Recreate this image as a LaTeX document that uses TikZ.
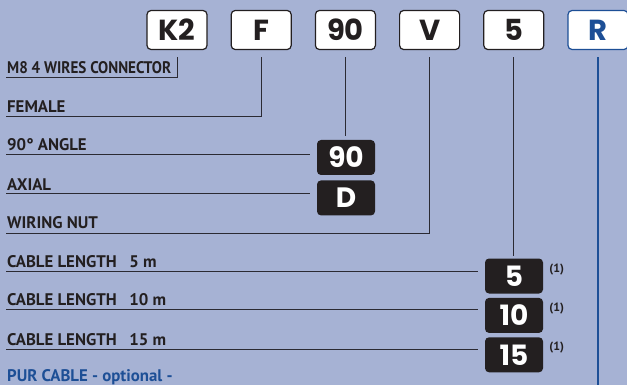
\documentclass[tikz,border=0pt]{standalone}
\usepackage{fontspec}
\setmainfont{PT Sans}
\newfontfamily\codefont{Poppins}
\usepackage{tikz}
\usetikzlibrary{positioning}
\definecolor{panel}{HTML}{A6B2D4}
\definecolor{codeblue}{HTML}{1D4F96}
\definecolor{ink}{HTML}{231F20}
\definecolor{wirecol}{HTML}{2B2A33}

\begin{document}
\begin{tikzpicture}[
  x=1pt, y=-1pt,
  node distance=23pt,
  codebox/.style={rectangle, draw=ink, fill=white, line width=1.2pt, rounded corners=4pt, minimum width=60pt, minimum height=39pt, inner sep=0pt, text=ink, font=\codefont\bfseries\fontsize{29}{29}\selectfont},
  pickbox/.style={rectangle, fill=ink, rounded corners=4pt, minimum width=58pt, minimum height=35pt, inner sep=0pt, text=white, font=\codefont\bfseries\fontsize{28}{28}\selectfont},
  label/.style={anchor=base west, inner sep=0pt, text=ink, font=\bfseries\fontsize{16.8}{16.8}\selectfont},
  note/.style={anchor=north west, inner sep=0pt, text=ink, font=\bfseries\fontsize{12}{12}\selectfont},
  wire/.style={draw=wirecol, line width=1pt},
  blueline/.style={draw=codeblue, line width=1.4pt}
]
\fill[panel] (0,0) rectangle (627,385);
\useasboundingbox (0,0) rectangle (627,385);

\node[codebox] (boxK2) at (177,30) {K2};
\node[codebox, right=of boxK2] (boxF) {F};
\node[codebox, right=of boxF] (box90) {90};
\node[codebox, right=of box90] (boxV) {V};
\node[codebox, right=of boxV] (box5) {5};
\node[codebox, right=of box5, draw=codeblue, text=codeblue] (boxR) {R};

\node[label] (lblConn) at (7,74) {\scalebox{0.9}[1]{M8 4 WIRES CONNECTOR}};
\node[label] (lblFem) at (7,113) {FEMALE};
\node[label] (lblAngle) at (7,151) {90° ANGLE};
\node[label] (lblAxial) at (7,190) {AXIAL};
\node[label] (lblNut) at (7,229) {WIRING NUT};
\node[label] (lbl5) at (7,267) {CABLE LENGTH\hspace{0.75em}5 m};
\node[label] (lbl10) at (7,305) {CABLE LENGTH\hspace{0.75em}10 m};
\node[label] (lbl15) at (7,345) {CABLE LENGTH\hspace{0.75em}15 m};
\node[label, text=codeblue] (lblPur) at (7,381) {PUR CABLE - optional -};

\node[pickbox] (b90) at (346,157.5) {90};
\node[pickbox, below=5pt of b90] (bD) {D};
\node[pickbox] (b5) at (514,276) {5};
\node[pickbox, below=4pt of b5] (b10) {10};
\node[pickbox, below=4pt of b10] (b15) {15};

\node[note] (n5) at ([xshift=6pt,yshift=-5pt]b5.north east) {(1)};
\node[note] (n10) at ([xshift=6pt,yshift=-5pt]b10.north east) {(1)};
\node[note] (n15) at ([xshift=6pt,yshift=-5pt]b15.north east) {(1)};

\coordinate (uConn) at ([xshift=-1pt,yshift=-4pt]lblConn.base west);
\coordinate (uFem) at ([xshift=-1pt,yshift=-4pt]lblFem.base west);
\coordinate (uAngle) at ([xshift=-1pt,yshift=-4pt]lblAngle.base west);
\coordinate (uAxial) at ([xshift=-1pt,yshift=-4pt]lblAxial.base west);
\coordinate (uNut) at ([xshift=-1pt,yshift=-4pt]lblNut.base west);
\coordinate (u5) at ([xshift=-1pt,yshift=-4pt]lbl5.base west);
\coordinate (u10) at ([xshift=-1pt,yshift=-4pt]lbl10.base west);
\coordinate (u15) at ([xshift=-1pt,yshift=-4pt]lbl15.base west);
\coordinate (rEnd) at (boxR.south |- 0,385);

\draw[wire, shorten <=7pt] (boxK2.south) |- (uConn);
\draw[wire, shorten <=7pt] (boxF.south) |- (uFem);
\draw[wire, shorten <=7pt, shorten >=4pt] (box90.south) -- (box90.south |- b90.north);
\draw[wire, shorten >=7pt] (uAngle) -- (uAngle -| b90.west);
\draw[wire, shorten >=7pt] (uAxial) -- (uAxial -| bD.west);
\draw[wire, shorten <=7pt] (boxV.south) |- (uNut);
\draw[wire, shorten <=7pt, shorten >=2pt] (box5.south) -- (box5.south |- b5.north);
\draw[wire, shorten >=7pt] (u5) -- (u5 -| b5.west);
\draw[wire, shorten >=7pt] (u10) -- (u10 -| b10.west);
\draw[wire, shorten >=7pt] (u15) -- (u15 -| b15.west);
\draw[blueline, shorten <=7pt] (boxR.south) -- (rEnd);

\end{tikzpicture}
\end{document}
